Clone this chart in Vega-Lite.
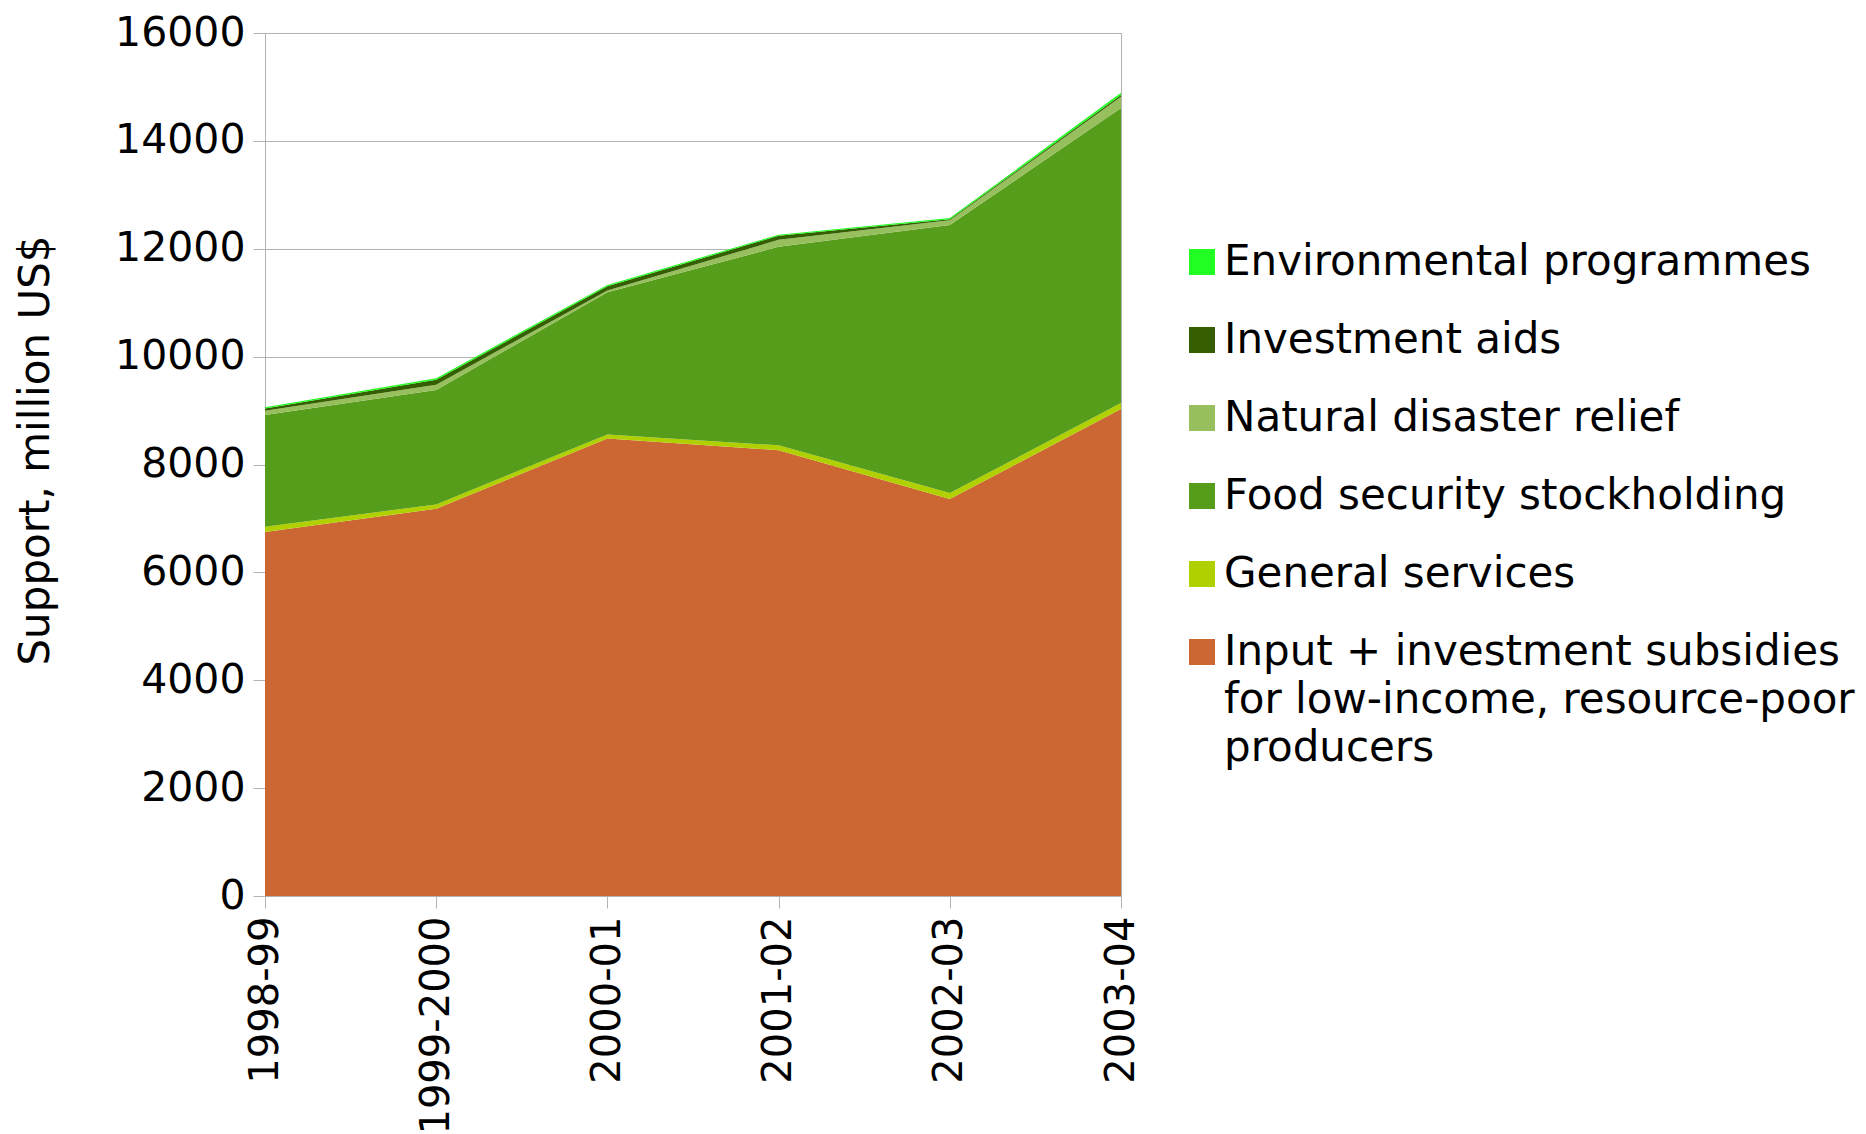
{
  "$schema": "https://vega.github.io/schema/vega-lite/v6.json",
  "width": 856,
  "height": 863,
  "autosize": {"type": "none"},
  "padding": {"left": 265, "top": 33, "right": 745, "bottom": 238},
  "background": "white",
  "config": {
    "font": "DejaVu Sans",
    "view": {"stroke": "#b3b3b3", "strokeWidth": 1}
  },
  "data": {
    "values": [
      {"period": "1998-99", "category": "Input + investment subsidies for low-income, resource-poor producers", "k": 1, "value": 6750},
      {"period": "1999-2000", "category": "Input + investment subsidies for low-income, resource-poor producers", "k": 1, "value": 7180},
      {"period": "2000-01", "category": "Input + investment subsidies for low-income, resource-poor producers", "k": 1, "value": 8480},
      {"period": "2001-02", "category": "Input + investment subsidies for low-income, resource-poor producers", "k": 1, "value": 8265},
      {"period": "2002-03", "category": "Input + investment subsidies for low-income, resource-poor producers", "k": 1, "value": 7360},
      {"period": "2003-04", "category": "Input + investment subsidies for low-income, resource-poor producers", "k": 1, "value": 9030},
      {"period": "1998-99", "category": "General services", "k": 2, "value": 95},
      {"period": "1999-2000", "category": "General services", "k": 2, "value": 80},
      {"period": "2000-01", "category": "General services", "k": 2, "value": 75},
      {"period": "2001-02", "category": "General services", "k": 2, "value": 90},
      {"period": "2002-03", "category": "General services", "k": 2, "value": 112},
      {"period": "2003-04", "category": "General services", "k": 2, "value": 110},
      {"period": "1998-99", "category": "Food security stockholding", "k": 3, "value": 2075},
      {"period": "1999-2000", "category": "Food security stockholding", "k": 3, "value": 2120},
      {"period": "2000-01", "category": "Food security stockholding", "k": 3, "value": 2640},
      {"period": "2001-02", "category": "Food security stockholding", "k": 3, "value": 3680},
      {"period": "2002-03", "category": "Food security stockholding", "k": 3, "value": 4968},
      {"period": "2003-04", "category": "Food security stockholding", "k": 3, "value": 5470},
      {"period": "1998-99", "category": "Natural disaster relief", "k": 4, "value": 75},
      {"period": "1999-2000", "category": "Natural disaster relief", "k": 4, "value": 100},
      {"period": "2000-01", "category": "Natural disaster relief", "k": 4, "value": 30},
      {"period": "2001-02", "category": "Natural disaster relief", "k": 4, "value": 130},
      {"period": "2002-03", "category": "Natural disaster relief", "k": 4, "value": 90},
      {"period": "2003-04", "category": "Natural disaster relief", "k": 4, "value": 210},
      {"period": "1998-99", "category": "Investment aids", "k": 5, "value": 45},
      {"period": "1999-2000", "category": "Investment aids", "k": 5, "value": 90},
      {"period": "2000-01", "category": "Investment aids", "k": 5, "value": 80},
      {"period": "2001-02", "category": "Investment aids", "k": 5, "value": 75},
      {"period": "2002-03", "category": "Investment aids", "k": 5, "value": 15},
      {"period": "2003-04", "category": "Investment aids", "k": 5, "value": 30},
      {"period": "1998-99", "category": "Environmental programmes", "k": 6, "value": 20},
      {"period": "1999-2000", "category": "Environmental programmes", "k": 6, "value": 30},
      {"period": "2000-01", "category": "Environmental programmes", "k": 6, "value": 25},
      {"period": "2001-02", "category": "Environmental programmes", "k": 6, "value": 20},
      {"period": "2002-03", "category": "Environmental programmes", "k": 6, "value": 25},
      {"period": "2003-04", "category": "Environmental programmes", "k": 6, "value": 40}
    ]
  },
  "mark": {"type": "area"},
  "encoding": {
    "x": {
      "field": "period",
      "type": "ordinal",
      "sort": ["1998-99", "1999-2000", "2000-01", "2001-02", "2002-03", "2003-04"],
      "scale": {"type": "point", "padding": 0},
      "axis": {
        "title": null,
        "labelAngle": 270,
        "labelAlign": "right",
        "labelBaseline": "middle",
        "labelFontSize": 40,
        "labelColor": "black",
        "labelPadding": 8,
        "tickSize": 12,
        "tickColor": "#b3b3b3",
        "domainColor": "#b3b3b3",
        "grid": false,
        "labelOverlap": false,
        "labelLimit": 0
      }
    },
    "y": {
      "field": "value",
      "type": "quantitative",
      "stack": "zero",
      "scale": {"domain": [0, 16000], "nice": false},
      "axis": {
        "title": "Support, million US$",
        "titleFontSize": 42,
        "titleFontWeight": "normal",
        "titleColor": "black",
        "titleAngle": 270,
        "titleAlign": "center",
        "titleBaseline": "middle",
        "titleX": -230,
        "titleY": 417,
        "format": "d",
        "values": [0, 2000, 4000, 6000, 8000, 10000, 12000, 14000, 16000],
        "labelFontSize": 41,
        "labelColor": "black",
        "labelPadding": 8,
        "tickSize": 12,
        "tickColor": "#b3b3b3",
        "domainColor": "#b3b3b3",
        "gridColor": "#b3b3b3",
        "labelOverlap": false
      }
    },
    "color": {
      "field": "category",
      "type": "nominal",
      "scale": {
        "domain": ["Environmental programmes", "Investment aids", "Natural disaster relief", "Food security stockholding", "General services", "Input + investment subsidies for low-income, resource-poor producers"],
        "range": ["#22ff22", "#355e00", "#98bf5e", "#579d1c", "#b0d000", "#cc6633"]
      },
      "legend": {
        "title": null,
        "orient": "none",
        "legendX": 916,
        "legendY": 208,
        "symbolType": "square",
        "symbolSize": 676,
        "symbolStrokeWidth": 0,
        "symbolOpacity": 1,
        "labelFontSize": 42,
        "labelColor": "black",
        "labelOffset": 1,
        "labelLimit": 0,
        "rowPadding": 36,
        "labelExpr": "datum.label == 'Input + investment subsidies for low-income, resource-poor producers' ? ['Input + investment subsidies', 'for low-income, resource-poor', 'producers'] : datum.label",
        "encode": {"labels": {"update": {"lineHeight": {"value": 48}}}}
      }
    },
    "order": {"field": "k", "type": "quantitative"}
  }
}
